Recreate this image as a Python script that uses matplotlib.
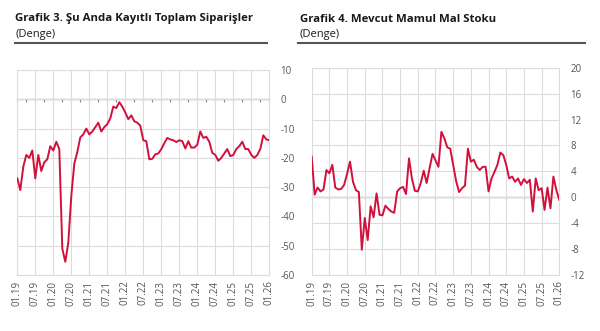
import matplotlib
matplotlib.use("Agg")
import matplotlib.pyplot as plt
import numpy as np

plt.rcParams['font.family'] = ['Open Sans', 'DejaVu Sans']

# ---- data ----
tick_labels = ["01.19", "07.19", "01.20", "07.20", "01.21", "07.21", "01.22", "07.22",
               "01.23", "07.23", "01.24", "07.24", "01.25", "07.25", "01.26"]

orders = [-27, -31, -23, -19, -20, -17.5, -27, -19, -24.5, -21.5, -20.5, -16,
          -17.5, -14.5, -17, -51, -55.5, -49, -33, -22, -18, -13, -12, -10,
          -12, -11, -9.5, -8, -11, -9.5, -8.5, -6.5, -2.5, -3, -1, -2.5,
          -4.5, -6.8, -5.5, -7.5, -8, -9, -14, -14.3, -20.5, -20.3, -18.8, -18.5,
          -17, -15, -13.2, -13.7, -14, -14.6, -14, -14.3, -16.8, -14.3, -16.5, -16.5,
          -15.5, -11, -13.2, -12.8, -14.5, -18.3, -19, -21, -20, -18.5, -17, -19.4,
          -19, -17, -16, -14.5, -17, -17, -19, -20, -19, -17, -12.3, -13.7, -14]

stocks = [6.3, 0.4, 1.5, 0.9, 1.2, 4.2, 3.7, 5.0, 1.5, 1.2, 1.3, 1.9,
          3.6, 5.5, 2.4, 1.1, 0.8, -8.1, -3.2, -6.6, -1.4, -3.1, 0.6, -2.7,
          -2.8, -1.3, -1.8, -2.2, -2.4, 0.9, 1.4, 1.6, 0.5, 6.0, 2.9, 1.0,
          0.9, 2.2, 4.1, 2.2, 4.5, 6.7, 5.7, 4.7, 10.1, 9.1, 7.7, 7.5,
          5.0, 2.5, 0.8, 1.4, 1.8, 7.5, 5.5, 5.8, 4.7, 4.2, 4.7, 4.7,
          0.9, 2.9, 3.9, 5.0, 6.9, 6.5, 5.0, 2.9, 3.2, 2.4, 2.9, 1.9,
          2.8, 2.2, 2.7, -2.2, 2.9, 1.1, 1.4, -1.95, 1.5, -1.7, 3.2, 1.1, -0.4]

left_title = "Grafik 3. Şu Anda Kayıtlı Toplam Siparişler"
right_title = "Grafik 4. Mevcut Mamul Mal Stoku"
subtitle = "(Denge)"
left_yticks = [10, 0, -10, -20, -30, -40, -50, -60]
right_yticks = [20, 16, 12, 8, 4, 0, -4, -8, -12]

LINE = '#d2103c'
GRID = '#dcdcdc'
TXT = '#555555'
ZERO = '#888888'

W, H = 600, 331
fig = plt.figure(figsize=(6, 3.31), dpi=100)


def px_axes(x0, x1, ytop, ybot):
    return fig.add_axes([x0 / W, 1 - ybot / H, (x1 - x0) / W, (ybot - ytop) / H])


def style(ax, series, yticks, minor_step):
    months = np.arange(len(series))
    ax.plot(months, series, color=LINE, lw=1.4, zorder=3, solid_joinstyle='round')
    ax.set_xlim(0, len(series) - 1)
    ax.set_ylim(min(yticks), max(yticks))
    ax.set_xticks(np.arange(0, len(series), 6))
    ax.set_xticklabels(tick_labels, rotation=90, fontsize=7, color=TXT)
    ax.set_yticks(yticks)
    ax.set_yticklabels([str(v) for v in yticks], fontsize=7, color=TXT)
    ax.yaxis.tick_right()
    for lab in ax.get_yticklabels():
        lab.set_horizontalalignment('left')
    ax.tick_params(axis='x', length=0, pad=4)
    ax.tick_params(axis='y', length=0, pad=8)
    ax.grid(True, color=GRID, lw=0.8)
    ax.set_axisbelow(True)
    for s in ax.spines.values():
        s.set_color(GRID)
        s.set_linewidth(0.8)
    lo, hi = min(yticks), max(yticks)
    zpos = (0 - lo) / (hi - lo)
    sec = ax.secondary_xaxis(zpos)
    sec.set_alignment('bottom')
    sec.set_xticks(np.arange(0, len(series), minor_step))
    sec.set_xticklabels([])
    sec.tick_params(axis='x', length=2.5, width=0.8, color=ZERO, direction='out',
                    labelbottom=False, labeltop=False)
    sec.spines['bottom'].set_color(ZERO)
    sec.spines['bottom'].set_linewidth(0.9)


axL = px_axes(17.3, 269.3, 70, 275)
style(axL, orders, left_yticks, 3)
axR = px_axes(311.7, 559.3, 67.7, 275)
style(axR, stocks, right_yticks, 6)

# titles
fig.text(15 / W, 1 - 19 / H, left_title, fontsize=8.2, fontweight='bold', color='#1a1a1a',
         va='center', ha='left')
fig.text(15 / W, 1 - 34 / H, subtitle, fontsize=8, color='#1a1a1a', va='center', ha='left')
fig.text(300 / W, 1 - 19 / H, right_title, fontsize=8.2, fontweight='bold', color='#1a1a1a',
         va='center', ha='left')
fig.text(300 / W, 1 - 34 / H, subtitle, fontsize=8, color='#1a1a1a', va='center', ha='left')

for x0, x1 in [(15, 267), (298, 585)]:
    fig.add_artist(plt.Line2D([x0 / W, x1 / W], [1 - 42.7 / H, 1 - 42.7 / H],
                              transform=fig.transFigure, color='#555555', lw=1.5))

fig.savefig("out.png", dpi=100)
